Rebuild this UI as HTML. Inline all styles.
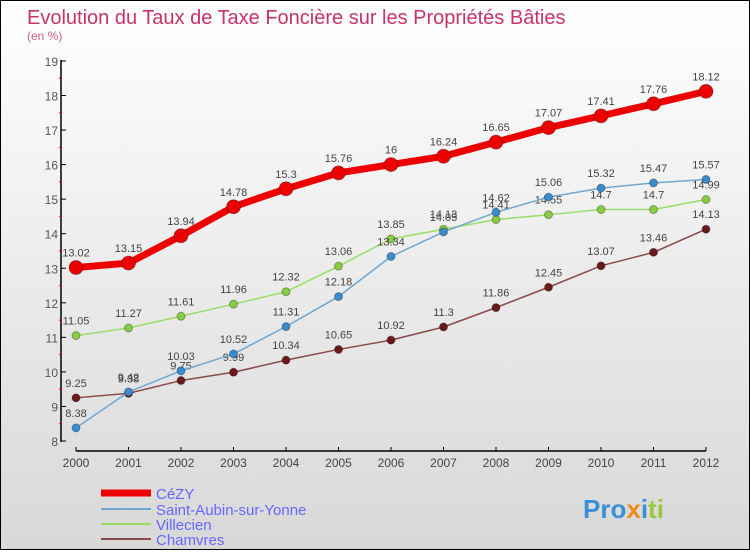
<!DOCTYPE html>
<html><head><meta charset="utf-8"><style>
body{margin:0;width:750px;height:550px;overflow:hidden;font-family:"Liberation Sans",sans-serif}
#wrap{position:absolute;left:0;top:0;width:748px;height:548px;border:1px solid #000;background:linear-gradient(#ffffff,#d8d8d8)}
</style></head><body>
<div id="wrap">
<svg id="chart" width="748" height="548" xmlns="http://www.w3.org/2000/svg">
<text x="26" y="23" font-size="20" fill="#c8336a">Evolution du Taux de Taxe Foncière sur les Propriétés Bâties</text>
<text x="26" y="39" font-size="12" fill="#d0608a">(en %)</text>
<g id="axes"></g><g id="series"></g>
<g font-size="15" fill="#6666ff">
<line x1="100" y1="492" x2="150" y2="492" stroke="#ee0000" stroke-width="7"/>
<text x="155" y="498">CéZY</text>
<line x1="100" y1="508" x2="150" y2="508" stroke="#6fa8d0" stroke-width="2"/>
<text x="155" y="514">Saint-Aubin-sur-Yonne</text>
<line x1="100" y1="523" x2="150" y2="523" stroke="#99dd66" stroke-width="2"/>
<text x="155" y="529">Villecien</text>
<line x1="100" y1="538" x2="150" y2="538" stroke="#8b4a4a" stroke-width="2"/>
<text x="155" y="544">Chamvres</text>
</g>
<text x="582" y="517" font-size="26" font-weight="bold"><tspan fill="#3b8fd8">Pro</tspan><tspan fill="#f08a1a">x</tspan><tspan fill="#3b8fd8">i</tspan><tspan fill="#9ac83a">ti</tspan></text>
</svg></div>
<script>
const years=[2000,2001,2002,2003,2004,2005,2006,2007,2008,2009,2010,2011,2012];
const yTicks=[8,9,10,11,12,13,14,15,16,17,18,19];
const cezy=[13.02,13.15,13.94,14.78,15.3,15.76,16,16.24,16.65,17.07,17.41,17.76,18.12];
const saintAubin=[8.38,9.42,10.03,10.52,11.31,12.18,13.34,14.05,14.62,15.06,15.32,15.47,15.57];
const villecien=[11.05,11.27,11.61,11.96,12.32,13.06,13.85,14.13,14.41,14.55,14.7,14.7,14.99];
const chamvres=[9.25,9.38,9.75,9.99,10.34,10.65,10.92,11.3,11.86,12.45,13.07,13.46,14.13];
const NS="http://www.w3.org/2000/svg";
const xS=i=>75+i*52.5, yS=v=>440-(v-8)*34.55;
function mk(t,a,p){const e=document.createElementNS(NS,t);for(const k in a)e.setAttribute(k,a[k]);p.appendChild(e);return e;}
const ax=document.getElementById('axes');
let l=mk('line',{x1:60,y1:59,x2:60,y2:441,stroke:'#000','stroke-width':1.5},ax);


l=mk('line',{x1:75,y1:450,x2:705,y2:450,stroke:'#000','stroke-width':1.5},ax);


yTicks.forEach(v=>{
 mk('line',{x1:60,y1:yS(v),x2:65,y2:yS(v),stroke:'#000'},ax);
 if(v<19) mk('line',{x1:58,y1:yS(v+0.5),x2:61,y2:yS(v+0.5),stroke:'#ee0000'},ax);
 const t=mk('text',{x:57,y:yS(v)+5,'font-size':12,fill:'#555','text-anchor':'end'},ax);t.textContent=v;
 
 
});
years.forEach((y,i)=>{
 mk('line',{x1:xS(i),y1:446,x2:xS(i),y2:450,stroke:'#000'},ax);
 const t=mk('text',{x:xS(i),y:466,'font-size':12,fill:'#444','text-anchor':'middle'},ax);t.textContent=y;
 
 
});
const sg=document.getElementById('series');
function draw(vals,name,color,w,r,dot){
 const g=mk('g',{},sg);
 
 
 mk('polyline',{points:vals.map((v,i)=>xS(i)+','+yS(v)).join(' '),fill:'none',stroke:color,'stroke-width':w},g);
 vals.forEach((v,i)=>{
  const c=mk('circle',{cx:xS(i),cy:yS(v),r:r,fill:dot,stroke:'rgba(0,0,0,0.3)'},g);
  
  
  const t=mk('text',{x:xS(i),y:yS(v)-11,'font-size':11,fill:'#444','text-anchor':'middle'},g);t.textContent=v;
  
  
 });
}
draw(chamvres,'chamvres','#8b4a4a',1.5,4,'#6b1a1a');
draw(villecien,'villecien','#99dd66',1.5,4,'#88cc44');
draw(saintAubin,'saint-aubin','#6fa8d0',1.5,4,'#3a8ccc');
draw(cezy,'cezy','#ee0000',7,7,'#ee0000');
</script>
</body></html>
